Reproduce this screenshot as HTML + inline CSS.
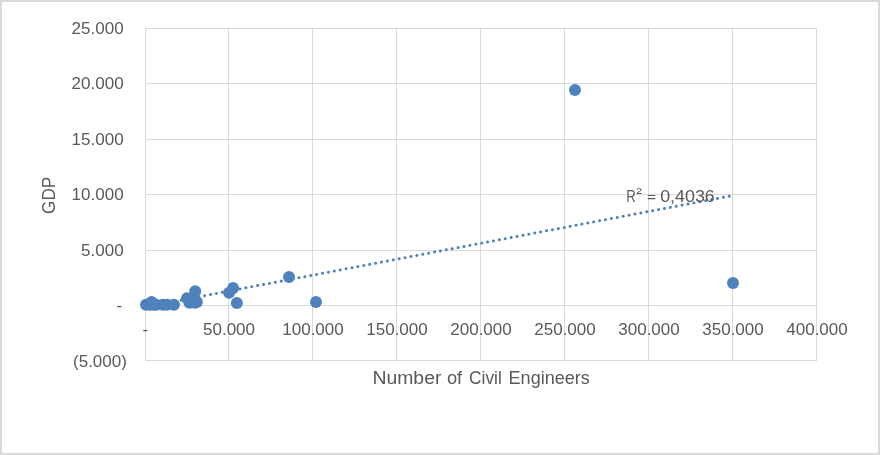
<!DOCTYPE html>
<html><head><meta charset="utf-8"><style>
html,body{margin:0;padding:0;width:880px;height:455px;overflow:hidden;background:#fff;font-family:"Liberation Sans",sans-serif}
</style></head><body>
<svg width="880" height="455" viewBox="0 0 880 455" style="position:absolute;left:0;top:0;will-change:transform">
<rect x="1" y="1" width="878" height="453" fill="#fff" stroke="#d9d9d9" stroke-width="2"/>
<path d="M145 28.5H817M145 83.5H817M145 139.5H817M145 194.5H817M145 250.5H817M145 305.5H817M145 360.5H817M145.5 28V361M228.5 28V361M312.5 28V361M396.5 28V361M480.5 28V361M564.5 28V361M648.5 28V361M732.5 28V361M816.5 28V361" stroke="#d9d9d9" stroke-width="1" fill="none" shape-rendering="crispEdges"/>
<g font-family="Liberation Sans" font-size="17" fill="#595959">
<text x="123.6" y="34" text-anchor="end">25.000</text>
<text x="123.6" y="89" text-anchor="end">20.000</text>
<text x="123.6" y="145" text-anchor="end">15.000</text>
<text x="123.6" y="200" text-anchor="end">10.000</text>
<text x="123.6" y="256" text-anchor="end">5.000</text>
<text x="122.2" y="311" text-anchor="end">-</text>
<text x="126.9" y="366.7" text-anchor="end">(5.000)</text>
<text x="145.4" y="335" text-anchor="middle">-</text>
<text x="229" y="335" text-anchor="middle">50.000</text>
<text x="313" y="335" text-anchor="middle">100.000</text>
<text x="397" y="335" text-anchor="middle">150.000</text>
<text x="481" y="335" text-anchor="middle">200.000</text>
<text x="565" y="335" text-anchor="middle">250.000</text>
<text x="649" y="335" text-anchor="middle">300.000</text>
<text x="733" y="335" text-anchor="middle">350.000</text>
<text x="817" y="335" text-anchor="middle">400.000</text>
<text x="372.4" y="384" font-size="17.7" textLength="69.0" lengthAdjust="spacingAndGlyphs">Number</text>
<text x="446.9" y="384" font-size="17.7" textLength="15.3" lengthAdjust="spacingAndGlyphs">of</text>
<text x="469.1" y="384" font-size="17.7" textLength="32.7" lengthAdjust="spacingAndGlyphs">Civil</text>
<text x="508.6" y="384" font-size="17.7" textLength="81.2" lengthAdjust="spacingAndGlyphs">Engineers</text>
<text transform="translate(54.8,176.9) rotate(-90)" text-anchor="end" font-size="17.7" textLength="37" lengthAdjust="spacingAndGlyphs">GDP</text>
</g>
<path d="M146 306.77L731 195.87" stroke="#4f81bd" stroke-width="3" stroke-linecap="round" stroke-dasharray="0.01 5.99" stroke-dashoffset="0.33" fill="none"/>
<g fill="#4f81bd">
<circle cx="146" cy="304.8" r="6"/>
<circle cx="150" cy="304.8" r="6"/>
<circle cx="151.5" cy="302" r="6"/>
<circle cx="153.5" cy="304.8" r="6"/>
<circle cx="156.3" cy="304.8" r="6"/>
<circle cx="163" cy="304.8" r="6"/>
<circle cx="167" cy="304.8" r="6"/>
<circle cx="173.9" cy="304.8" r="6"/>
<circle cx="187" cy="298.2" r="6"/>
<circle cx="195.2" cy="291.2" r="6"/>
<circle cx="189.5" cy="302.7" r="6"/>
<circle cx="195" cy="302.7" r="6"/>
<circle cx="196.9" cy="302" r="6"/>
<circle cx="233.1" cy="288.1" r="6"/>
<circle cx="229.1" cy="292.8" r="6"/>
<circle cx="236.9" cy="302.9" r="6"/>
<circle cx="289" cy="277" r="6"/>
<circle cx="316" cy="302" r="6"/>
<circle cx="575" cy="90" r="6"/>
<circle cx="733" cy="283" r="6"/>
</g>
<g font-family="Liberation Sans" font-size="17" fill="#595959">
<text x="626.3" y="201.6" textLength="9.5" lengthAdjust="spacingAndGlyphs">R</text>
<text x="636.3" y="197.8" font-size="13.8" textLength="5.6" lengthAdjust="spacingAndGlyphs">²</text>
<path d="M647.8 195.5H655.3M647.8 198.6H655.3" stroke="#595959" stroke-width="1.1" fill="none"/>
<text x="660.2" y="201.6" textLength="54.6" lengthAdjust="spacingAndGlyphs">0,4036</text>
</g>
</svg>
</body></html>
